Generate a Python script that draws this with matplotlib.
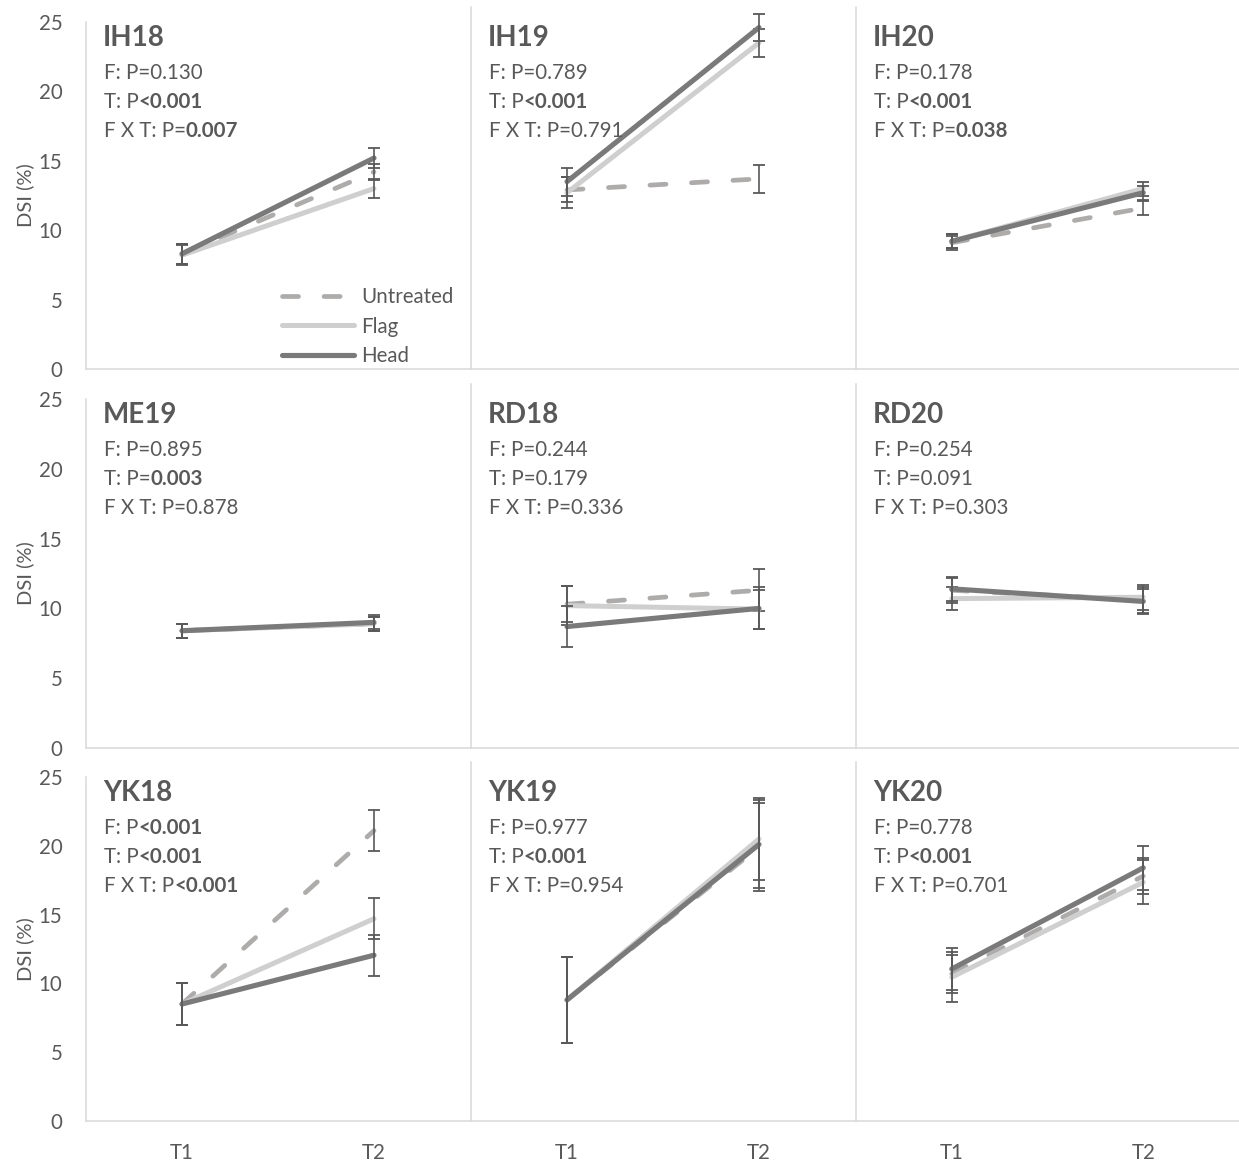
import matplotlib
matplotlib.use("Agg")
import matplotlib.pyplot as plt
from matplotlib.lines import Line2D

plt.rcParams['font.family'] = ['Lato', 'DejaVu Sans']

# ---- data -------------------------------------------------------------
sites = ["IH18", "IH19", "IH20", "ME19", "RD18", "RD20", "YK18", "YK19", "YK20"]
timepoints = ["T1", "T2"]
series_names = ["Untreated", "Flag", "Head"]

untreated_mean = [[8.3, 14.2], [12.9, 13.7], [9.1, 11.6], [8.4, 8.9], [10.3, 11.3],
                  [11.3, 10.6], [8.5, 21.1], [8.8, 19.9], [10.7, 17.8]]
untreated_err = [[0.7, 0.6], [0.9, 1.0], [0.5, 0.5], [0.5, 0.5], [1.3, 1.5],
                 [0.9, 0.9], [1.5, 1.5], [3.1, 3.2], [1.4, 1.3]]

flag_mean = [[8.2, 13.0], [12.7, 23.5], [9.2, 13.0], [8.4, 8.9], [10.2, 9.95],
             [10.7, 10.8], [8.5, 14.7], [8.8, 20.5], [10.45, 17.35]]
flag_err = [[0.7, 0.7], [1.1, 1.0], [0.5, 0.5], [0.5, 0.5], [1.4, 1.4],
            [0.8, 0.9], [1.5, 1.5], [3.1, 3.0], [1.8, 1.6]]

head_mean = [[8.3, 15.2], [13.5, 24.6], [9.2, 12.7], [8.4, 9.0], [8.7, 10.0],
             [11.4, 10.5], [8.5, 12.05], [8.8, 20.1], [11.05, 18.4]]
head_err = [[0.7, 0.7], [1.0, 1.0], [0.5, 0.5], [0.5, 0.5], [1.5, 1.5],
            [0.85, 0.9], [1.5, 1.5], [3.1, 3.2], [1.5, 1.6]]

# ANOVA p-values: fungicide (F), time (T) and interaction (F X T)
p_fungicide = ["=0.130", "=0.789", "=0.178", "=0.895", "=0.244", "=0.254", "<0.001", "=0.977", "=0.778"]
p_time = ["<0.001", "<0.001", "<0.001", "=0.003", "=0.179", "=0.091", "<0.001", "<0.001", "<0.001"]
p_interaction = ["=0.007", "=0.791", "=0.038", "=0.878", "=0.336", "=0.303", "<0.001", "=0.954", "=0.701"]

y_ticks = [0, 5, 10, 15, 20, 25]

# ---- style ------------------------------------------------------------
TEXT = "#595959"
AXIS = "#d9d9d9"
ERR = "#595959"
styles = {
    "Untreated": dict(color="#aeabab", lw=3.4, dashes=(3.4, 5.4)),
    "Flag": dict(color="#d0cfcf", lw=3.6),
    "Head": dict(color="#7a7a7a", lw=3.7),
}

W, H = 1239, 1164
fig = plt.figure(figsize=(W / 100, H / 100), dpi=100)

col_left = [86, 471, 856]
col_w = [384, 384, 383]
row_top = [22, 399, 777]
row_bot = [369, 748, 1121]

FS = 14.8
TITLE_FS = 20

means = {"Untreated": untreated_mean, "Flag": flag_mean, "Head": head_mean}
errs = {"Untreated": untreated_err, "Flag": flag_err, "Head": head_err}


def stat_line(ax, label, pval, dy):
    """Draw one 'label: P...' line with the significant part in bold."""
    sign, num = pval[0], pval[1:]
    significant = sign == "<" or float(num) < 0.05
    if sign == "<":
        normal, bold = f"{label}: P", f"<{num}"
    elif significant:
        normal, bold = f"{label}: P=", num
    else:
        normal, bold = f"{label}: P={num}", ""
    t = ax.annotate(normal, xy=(0, 1), xycoords="axes fraction",
                    xytext=(18, -dy), textcoords="offset pixels",
                    ha="left", va="center", fontsize=FS, color=TEXT)
    if bold:
        ax.annotate(bold, xy=(1, 0), xycoords=t, ha="left", va="bottom",
                    fontsize=FS, color=TEXT, fontweight="bold")


x = [0, 1]
for i, site in enumerate(sites):
    r, c = divmod(i, 3)
    h_px = row_bot[r] - row_top[r]
    ax = fig.add_axes([col_left[c] / W, 1 - row_bot[r] / H, col_w[c] / W, h_px / H])
    ax.set_xlim(-0.5, 1.5)
    ax.set_ylim(0, 25)

    for name in series_names:
        st = styles[name]
        kw = dict(color=st["color"], lw=st["lw"], solid_capstyle="round",
                  dash_capstyle="round", label=name)
        if "dashes" in st:
            kw["dashes"] = st["dashes"]
        ax.plot(x, means[name][i], **kw)
        eb = ax.errorbar(x, means[name][i], yerr=errs[name][i], fmt="none",
                         ecolor=ERR, elinewidth=1.2, capsize=4.3, capthick=1.3)
        for art in list(eb.lines[1]) + list(eb.lines[2]):
            art.set_clip_on(False)

    # axis lines
    for s in ("top", "right"):
        ax.spines[s].set_visible(False)
    ax.spines["bottom"].set_color(AXIS)
    ax.spines["bottom"].set_linewidth(1.1)
    if c == 0:
        ax.spines["left"].set_color(AXIS)
        ax.spines["left"].set_linewidth(1.1)
    else:
        ax.spines["left"].set_visible(False)
        ax.add_line(Line2D([0, 0], [0, 1 + 15 / h_px], transform=ax.transAxes,
                           color=AXIS, lw=1.1, clip_on=False))

    ax.set_yticks(y_ticks)
    ax.set_xticks(x)
    ax.tick_params(length=0, colors=TEXT, labelsize=FS)
    ax.tick_params(axis="y", pad=17)
    ax.tick_params(axis="x", pad=15.5)
    if c == 0:
        ax.set_ylabel("DSI (%)", fontsize=14.5, color=TEXT, labelpad=3)
    else:
        ax.tick_params(labelleft=False)
    if r == 2:
        ax.set_xticklabels(timepoints)
    else:
        ax.tick_params(labelbottom=False)

    # panel title and statistics
    ax.annotate(site, xy=(0, 1), xycoords="axes fraction", xytext=(17, -16),
                textcoords="offset pixels", ha="left", va="center",
                fontsize=TITLE_FS, fontweight="bold", color=TEXT)
    stat_line(ax, "F", p_fungicide[i], 51)
    stat_line(ax, "T", p_time[i], 80)
    stat_line(ax, "F X T", p_interaction[i], 109)

    if i == 0:
        leg = ax.legend(loc="lower left", bbox_to_anchor=(0.51, 0.008),
                        frameon=False, fontsize=FS, handlelength=3.5,
                        handletextpad=0.35, labelspacing=0.47, borderpad=0,
                        borderaxespad=0)
        for txt in leg.get_texts():
            txt.set_color(TEXT)

fig.savefig("out.png", dpi=100)
